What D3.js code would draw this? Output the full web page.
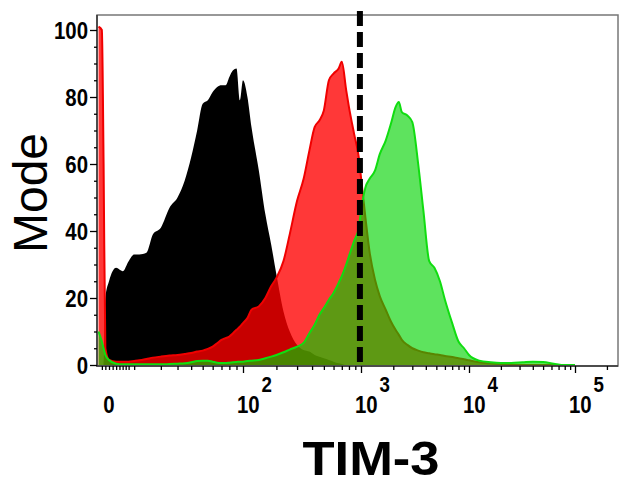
<!DOCTYPE html>
<html>
<head>
<meta charset="utf-8">
<script src="https://cdn.jsdelivr.net/npm/d3@7"></script>
<style>
body { margin: 0; background: #fff; }
svg { display: block; }
</style>
</head>
<body>
<svg width="620" height="486"></svg>
<script>
// fluorescence bins (TIM-3 intensity) and % of mode per sample
var bins = [-3, -2, -1.5, -1, 0,
	2, 4, 6, 8, 10,
	13, 16, 20, 25, 30,
	35, 40, 45, 50, 55,
	60, 65, 70, 75, 80,
	85, 90, 95, 100, 110,
	120, 140, 160, 180, 200,
	230, 260, 300, 340, 380,
	420, 460, 500, 550, 600,
	660, 700, 760, 800, 880,
	960, 1000, 1100, 1200, 1350,
	1500, 1700, 1900, 2100, 2250,
	2400, 2700, 3000, 3400, 3800,
	4300, 4800, 5400, 6000, 7000,
	8000, 9000, 10000, 12500, 16000,
	20000, 25000, 32000, 40000, 50000,
	63000, 80000, 100000];

var blackPct = [0, 0, 0, 20, 25,
	29, 28, 31, 33, 33,
	33.5, 39, 41, 47, 50,
	55, 62, 70, 78, 79,
	81.5, 83, 83.5, 83.5, 86,
	88, 88.5, 79, 85, 80,
	71, 58, 45, 36, 27,
	16, 10, 6, 4.5, 4,
	3, 2.5, 2, 1.5, 1,
	0.5, 0.3, 0, 0, 0,
	0, 0, 0, 0, 0,
	0, 0, 0, 0, 0,
	0, 0, 0, 0, 0,
	0, 0, 0, 0, 0,
	0, 0, 0, 0, 0,
	0, 0, 0, 0, 0,
	0, 0, 0];

var redPct = [101, 100, 60, 5, 1.5,
	1, 1, 1, 1.2, 1.4,
	1.8, 2.2, 2.5, 2.8, 3,
	3.3, 3.6, 4, 4.3, 4.8,
	5.5, 6.5, 7.5, 8, 8.5,
	9.5, 10.5, 11.4, 12.5, 14,
	16.5, 17.5, 20, 23.5, 26,
	31, 39, 49, 55.5, 64,
	71, 73, 76, 85, 87,
	88.5, 90.5, 82, 77, 69,
	62, 56, 44, 34, 25.5,
	20.5, 16.5, 13, 10.5, 9,
	7.5, 6, 5, 4.3, 3.8,
	3.5, 3.2, 3, 2.7, 2.4,
	2, 1.7, 1.4, 0.8, 0.5,
	0.3, 0, 0, 0, 0,
	0, 0, 0];

var greenPct = [10, 7, 5, 3, 1.5,
	0.4, 0.2, 0.2, 0.2, 0.2,
	0.2, 0.2, 0.2, 0.3, 0.4,
	0.5, 0.8, 1.2, 1.3, 1.3,
	1, 0.7, 0.6, 0.6, 0.7,
	0.8, 0.9, 1, 1, 1.2,
	1.3, 1.5, 2, 2.5, 3,
	3.8, 4.6, 5.5, 6.6, 9.5,
	12, 15, 17, 19.5, 21.5,
	24.5, 26.5, 30, 32.5, 37,
	41, 46, 53, 55.5, 58,
	63, 67, 72, 77, 78.5,
	75.5, 74.5, 72.5, 60, 46,
	31, 29, 25, 19.5, 12.5,
	7, 5, 3, 1.3, 0.8,
	0.6, 0.6, 0.8, 1, 0.9,
	0.4, 0, 0];

var yMajorTicks = [0, 20, 40, 60, 80, 100];
var yMinorTicks = [5, 10, 15, 25, 30, 35, 45, 50, 55, 65, 70, 75, 85, 90, 95];
var xMajorTicks = [100, 1000, 10000, 100000];
var xMajorExp = ['2', '3', '4', '5'];
var xZeroTicks = [-2, -1, 0, 1, 2, 3, 4, 5, 6, 8];
var xMinorTicks = [20, 30, 40, 50, 60, 70, 80, 90,
	200, 300, 400, 500, 600, 700, 800, 900,
	2000, 3000, 4000, 5000, 6000, 7000, 8000, 9000,
	20000, 30000, 40000, 50000, 60000, 70000, 80000, 90000, 200000];
var cutoffValue = 980;

var labelFont = '"Liberation Sans", Arial, sans-serif';
var narrow = 0.85; // tick labels are a condensed bold face

function HistogramView(){
}

HistogramView.prototype.render = function(options){
	this.options = options;
	this.svg = d3.select('svg');

	// biexponential-like axis: symlog, pinned at the decade marks
	this.x = d3.scaleSymlog().constant(20)
		.domain([0, 100, 1000, 10000, 100000])
		.range([109, 243, 361, 469, 575]);
	this.y = d3.scaleLinear().domain([0, 100]).range([365, 30]);

	this.addClip();
	var g = this.svg.append('g').attr('clip-path', 'url(#plot-clip)');
	this.addSeries(g, blackPct, '#000', 1, null);
	this.addSeries(g, redPct, '#ff0000', 0.78, '#f00000');
	this.addSeries(g, greenPct, 'rgb(0,210,0)', 0.63, '#10dd10');
	this.addFrame();
	this.addXAxis();
	this.addYAxis();
	this.addCutoff();
	this.addTitles();
}

HistogramView.prototype.addClip = function(){
	var o = this.options;
	this.svg.append('defs').append('clipPath').attr('id', 'plot-clip')
		.append('rect')
		.attr('x', o.left)
		.attr('y', o.top)
		.attr('width', o.right - o.left)
		.attr('height', o.bottom - o.top);
}

HistogramView.prototype.addSeries = function(g, values, fill, opacity, stroke){
	var x = this.x, y = this.y;
	var area = d3.area()
		.x(function(d, i){ return x(bins[i]); })
		.y0(y(0))
		.y1(function(d){ return y(d); })
		.curve(d3.curveMonotoneX);
	g.append('path')
		.datum(values)
		.attr('d', area)
		.attr('fill', fill)
		.attr('fill-opacity', opacity);

	if(stroke) {
		var line = d3.line()
			.x(function(d, i){ return x(bins[i]); })
			.y(function(d){ return y(d); })
			.curve(d3.curveMonotoneX);
		g.append('path')
			.datum(values)
			.attr('d', line)
			.attr('fill', 'none')
			.attr('stroke', stroke)
			.attr('stroke-width', 2);
	}
}

HistogramView.prototype.addFrame = function(){
	var o = this.options;
	this.svg.append('rect')
		.attr('x', o.left)
		.attr('y', o.top)
		.attr('width', o.right - o.left)
		.attr('height', o.bottom - o.top)
		.attr('fill', 'none')
		.attr('stroke', '#777')
		.attr('stroke-width', 1.5);
	this.svg.append('path')
		.attr('d', 'M' + o.left + ',' + o.top + 'V' + o.bottom + 'H' + o.right)
		.attr('fill', 'none')
		.attr('stroke', '#333')
		.attr('stroke-width', 1.5);
}

HistogramView.prototype.addTickGroup = function(axis, tx, ty){
	var g = this.svg.append('g')
		.attr('transform', 'translate(' + tx + ',' + ty + ')')
		.call(axis);
	g.select('.domain').remove();
	g.selectAll('line').attr('stroke', '#000').attr('stroke-width', 1.3);
	return g;
}

HistogramView.prototype.addXAxis = function(){
	var o = this.options, x = this.x;
	this.addTickGroup(d3.axisBottom(x).tickValues(xZeroTicks).tickSize(4).tickFormat(''), 0, o.bottom);
	this.addTickGroup(d3.axisBottom(x).tickValues(xMinorTicks).tickSize(4).tickFormat(''), 0, o.bottom);
	this.addTickGroup(d3.axisBottom(x).tickValues(xMajorTicks).tickSize(7).tickFormat(''), 0, o.bottom);

	this.svg.append('text')
		.attr('transform', 'translate(' + x(0) + ',413) scale(' + narrow + ',1)')
		.attr('text-anchor', 'middle')
		.style('font-family', labelFont)
		.style('font-weight', 'bold')
		.style('font-size', '24px')
		.text('0');

	var labels = this.svg.append('g').selectAll('text')
		.data(xMajorTicks)
		.enter().append('text')
		.attr('transform', function(d){ return 'translate(' + (x(d) - 6) + ',413) scale(' + narrow + ',1)'; })
		.style('font-family', labelFont)
		.style('font-weight', 'bold')
		.style('font-size', '24px');
	labels.append('tspan').text('10');
	labels.append('tspan')
		.attr('dx', 2)
		.attr('dy', -21)
		.style('font-size', '22px')
		.text(function(d, i){ return xMajorExp[i]; });
}

HistogramView.prototype.addYAxis = function(){
	var o = this.options;
	this.addTickGroup(d3.axisLeft(this.y).tickValues(yMinorTicks).tickSize(3).tickFormat(''), o.left, 0);
	var g = this.addTickGroup(d3.axisLeft(this.y).tickValues(yMajorTicks).tickSize(7).tickPadding(2), o.left, 0);
	g.selectAll('text')
		.attr('fill', '#000')
		.attr('x', 0)
		.attr('dy', '0.35em')
		.attr('transform', 'translate(-9,0) scale(' + narrow + ',1)')
		.style('font-family', labelFont)
		.style('font-weight', 'bold')
		.style('font-size', '24px');
}

HistogramView.prototype.addCutoff = function(){
	var cx = this.x(cutoffValue);
	this.svg.append('line')
		.attr('x1', cx).attr('x2', cx)
		.attr('y1', 11).attr('y2', this.options.bottom)
		.attr('stroke', '#000')
		.attr('stroke-width', 6)
		.attr('stroke-dasharray', '15,6');
}

HistogramView.prototype.addTitles = function(){
	this.svg.append('text')
		.attr('transform', 'translate(47,193) rotate(-90)')
		.attr('text-anchor', 'middle')
		.style('font-family', labelFont)
		.style('font-size', '48px')
		.text('Mode');
	this.svg.append('text')
		.attr('x', 371)
		.attr('y', 475)
		.attr('text-anchor', 'middle')
		.attr('textLength', 137)
		.attr('lengthAdjust', 'spacingAndGlyphs')
		.style('font-family', labelFont)
		.style('font-weight', 'bold')
		.style('font-size', '49px')
		.text('TIM-3');
}

new HistogramView().render({left: 97, top: 15, right: 618, bottom: 366});
</script>
</body>
</html>
